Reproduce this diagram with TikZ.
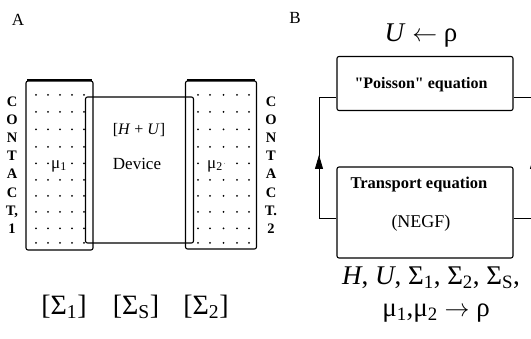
\documentclass[tikz,border=0pt]{standalone}
\usepackage{fontspec}
\setmainfont{Liberation Serif}
\usetikzlibrary{arrows.meta}
\newcommand{\sbs}[1]{\textsubscript{#1}}
\tikzset{
  box/.style={draw, line width=1.1pt, rounded corners=2pt, inner sep=0pt},
  contactbox/.style={box},
  letters/.style={font=\fontsize{14.5}{18.2}\selectfont\bfseries, align=center, inner sep=0pt},
  dotmark/.style={fill=black, draw=none},
  loopline/.style={line width=0.8pt},
  uptip/.style={-{Triangle[length=14pt,width=8pt]}},
  biglab/.style={font=\fontsize{28}{30}\selectfont, inner sep=0pt},
  eqlab/.style={font=\fontsize{27}{30}\selectfont, inner sep=0pt},
}
\begin{document}
\begin{tikzpicture}[x=1pt,y=-1pt]
\useasboundingbox (0,0) rectangle (531,339);
% ---------- Panel A ----------
\node[font=\fontsize{17}{19}\selectfont] (labA) at (18,20) {A};
% contact 1
\node[contactbox, minimum width=67pt, minimum height=169pt] (c1) at (59.5,165.5) {};
\draw[line width=2pt] ([xshift=2pt]c1.north west) -- ([xshift=-2pt]c1.north east);
% contact 2
\node[contactbox, minimum width=71pt, minimum height=168pt] (c2) at (221,165) {};
\draw[line width=2pt] ([xshift=2pt]c2.north west) -- ([xshift=-2pt]c2.north east);
% device
\node[box, minimum width=108pt, minimum height=146pt] (dev) at (139.5,170) {};
% dots
\foreach \y in {95,112,129.5,147,163.5,180,196,212,228.5,243}{
  \foreach \x in {36,48,60,72,84}{\fill[dotmark] (\x,\y) circle (1pt);}
  \foreach \x in {198,210,223.5,237,249}{\fill[dotmark] (\x,\y) circle (1pt);}
}
% labels inside
\node[fill=white, inner sep=1pt, font=\fontsize{17}{19}\selectfont] (mu1) at (59,166) {μ\sbs{1}};
\node[fill=white, inner sep=1pt, font=\fontsize{17}{19}\selectfont] (mu2) at (215,166) {μ\sbs{2}};
\node[font=\fontsize{16}{18}\selectfont] (hu) at (139,130) {[\textit{H} + \textit{U}]};
\node[font=\fontsize{17}{19}\selectfont] (devtxt) at (137,164) {Device};
% contact letters
\node[letters] (l1) at (12,165) {C\\O\\N\\T\\A\\C\\T,\\1};
\node[letters] (l2) at (271,165) {C\\O\\N\\T\\A\\C\\T.\\2};
% bottom labels
\node[biglab] (s1) at (64,307) {[Σ\sbs{1}]};
\node[biglab] (ss) at (136,307) {[Σ\sbs{S}]};
\node[biglab] (s2) at (206,307) {[Σ\sbs{2}]};
% ---------- Panel B ----------
\node[font=\fontsize{17}{19}\selectfont] (labB) at (295,18) {B};
\node[eqlab] (urho) at (421,36) {\textit{U} $\leftarrow$ ρ};
\node[box, minimum width=176pt, minimum height=54pt] (pois) at (425,83.5) {};
\node[font=\fontsize{16}{18}\selectfont\bfseries] (poistxt) at (421,85)
  {\textquotedbl Poisson\textquotedbl{} equation};
\node[box, minimum width=176pt, minimum height=91pt] (trans) at (425,212.5) {};
\node[font=\fontsize{16.5}{18}\selectfont\bfseries] (transtxt) at (419,185) {Transport equation};
\node[font=\fontsize{18}{20}\selectfont] (negf) at (421,223) {(NEGF)};
\node[eqlab] (eq1) at (431,278) {\textit{H}, \textit{U}, Σ\sbs{1}, Σ\sbs{2}, Σ\sbs{S},};
\node[eqlab] (eq2) at (436,313) {μ\sbs{1},μ\sbs{2} $\rightarrow$ ρ};
% loops
\coordinate (pl) at ([yshift=-13.5pt]pois.west);
\coordinate (tl) at ([yshift=-5.5pt]trans.west);
\coordinate (pr) at ([yshift=-13.5pt]pois.east);
\coordinate (tr) at ([yshift=-5.5pt]trans.east);
\coordinate (lx) at (319,0);
\coordinate (rx) at (534,0);
\draw[loopline, uptip] (tl) -- (tl -| lx) -- (319,155);
\draw[loopline] (319,157) -- (pl -| lx) -- (pl);
\draw[loopline, uptip] (tr) -- (tr -| rx) -- (534,155);
\draw[loopline] (534,157) -- (pr -| rx) -- (pr);
\end{tikzpicture}
\end{document}
